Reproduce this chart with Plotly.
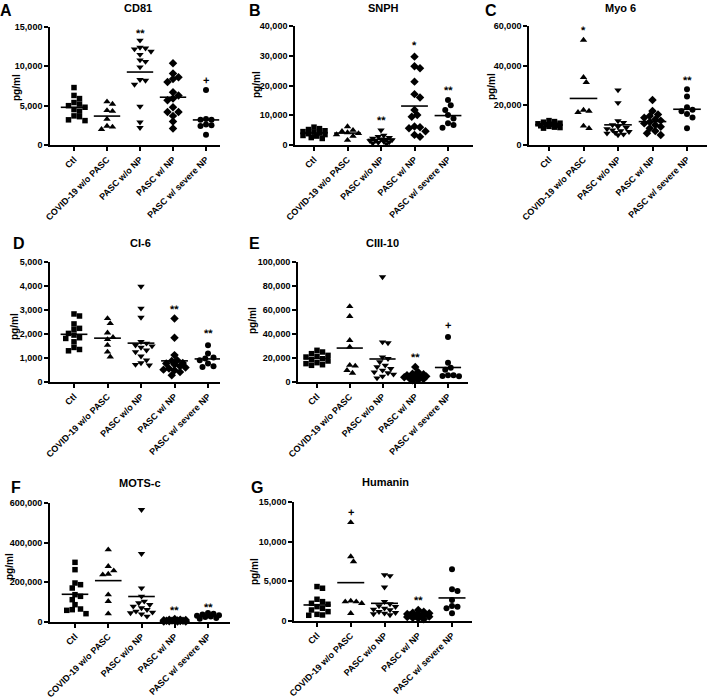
import numpy as np
import plotly.graph_objects as go

W, H = 709, 698

categories = ["Ctl", "COVID-19 w/o PASC", "PASC w/o NP", "PASC w/ NP", "PASC w/ severe NP"]
symbols = ["square", "triangle-up", "triangle-down", "diamond", "circle"]

# ---- data (pg/ml) ----
cd81 = [
    [7300, 6300, 5900, 5400, 5200, 5000, 4800, 4500, 4300, 3700, 3600, 3200, 3100],
    [5500, 5200, 4400, 4300, 3300, 2400, 2000, 2300],
    [13300, 12400, 12300, 12200, 11900, 11500, 10800, 10600, 9900, 8300, 8200, 7700, 4900, 2900, 2200],
    [10400, 9100, 8600, 8400, 8000, 6700, 6300, 5900, 5700, 4800, 4200, 4200, 3700, 3000, 2100],
    [7000, 3300, 3200, 3200, 2600, 2500, 2400, 1300],
]
snph = [
    [6000, 5500, 5200, 4800, 4500, 4300, 4000, 3800, 3500, 3200, 3000, 2500, 2200],
    [6200, 5000, 4600, 4200, 3900, 3500, 3000, 1600],
    [5000, 3200, 2800, 2500, 2200, 2000, 1900, 1700, 1500, 1400, 1200, 1000, 800, 600, 400],
    [29700, 26500, 25800, 21300, 17100, 16000, 11800, 10100, 9500, 6200, 6000, 5600, 4600, 3400, 2800],
    [15100, 13400, 11800, 10100, 8900, 7300, 6700, 5800],
]
myo6 = [
    [12300, 11800, 11500, 11000, 10700, 10500, 10200, 10000, 9700, 9400, 9000, 8800, 8500],
    [52900, 34100, 31600, 17600, 17100, 16500, 9600, 8400],
    [27700, 21300, 12100, 11300, 10100, 9240, 8740, 8070, 7560, 7060, 6720, 6220, 5880, 5380, 5040],
    [22700, 17100, 15400, 14600, 13800, 12900, 12300, 11600, 10900, 10100, 9200, 8400, 7100, 5900, 5000],
    [28100, 24400, 19000, 17800, 17000, 15600, 13900, 8400],
]
ci6 = [
    [2835, 2750, 2420, 2235, 2190, 2025, 1955, 1845, 1815, 1675, 1440, 1355, 1300],
    [2650, 2440, 2050, 1860, 1775, 1535, 1255, 1050],
    [3980, 3070, 2690, 1680, 1610, 1535, 1495, 1440, 1325, 1255, 1075, 910, 795, 725, 700],
    [2650, 1845, 1120, 910, 880, 795, 770, 725, 655, 600, 560, 515, 490, 420, 280],
    [1535, 1190, 1020, 980, 910, 770, 655, 630],
]
ciii10 = [
    [26400, 25000, 23600, 22200, 21400, 20800, 19400, 18600, 17500, 16100, 15300, 14400, 13900],
    [63000, 54700, 34700, 29200, 14000, 13400, 9700, 7500],
    [87500, 33300, 32500, 20800, 19400, 16700, 13900, 12500, 11100, 9700, 8300, 7500, 6400, 4700, 3300],
    [12500, 8300, 6900, 6400, 5600, 5000, 4700, 4200, 3900, 3600, 3300, 2800, 2500, 1900, 1400],
    [37500, 16100, 11900, 10300, 5600, 5600, 5000, 4700],
]
motsc = [
    [300800, 263900, 196600, 188200, 171400, 137800, 129400, 112600, 87400, 65500, 62200, 58800, 42000],
    [364700, 280700, 258800, 242000, 238700, 137800, 104200, 42000],
    [566400, 344500, 171400, 129400, 104200, 95800, 87400, 79000, 70600, 62200, 53800, 48700, 45400, 40300, 28600],
    [15000, 12000, 11000, 10000, 9000, 8000, 7000, 6500, 6000, 5000, 4500, 4000, 3000, 2500, 2000],
    [45000, 42000, 38000, 34000, 31000, 28000, 25000, 20000, 16000],
]
humanin = [
    [4340, 4130, 2740, 2440, 2230, 2110, 1810, 1600, 1390, 1180, 840, 760, 720],
    [12430, 8130, 7500, 2530, 2440, 2230, 2440, 970],
    [5820, 5690, 4260, 2440, 2150, 1900, 1810, 1600, 1475, 1390, 1180, 1050, 970, 890, 760],
    [1390, 1180, 1050, 970, 890, 840, 760, 720, 670, 630, 550, 505, 420, 340, 210],
    [6530, 4000, 3790, 2650, 1900, 1810, 1600, 970],
]

titles = ["CD81", "SNPH", "Myo 6", "CI-6", "CIII-10", "MOTS-c", "Humanin"]
letters = ["A", "B", "C", "D", "E", "F", "G"]
ymaxes = [15000, 40000, 60000, 5000, 100000, 600000, 15000]
ydticks = [5000, 10000, 20000, 1000, 20000, 200000, 5000]

# significance marks: (category index, text, y value)
sig_cd81 = [(2, "**", 14300), (4, "+", 8300)]
sig_snph = [(2, "**", 8300), (3, "*", 33600), (4, "**", 18400)]
sig_myo6 = [(1, "*", 58000), (4, "**", 33000)]
sig_ci6 = [(3, "**", 3050), (4, "**", 2050)]
sig_ciii10 = [(3, "**", 20500), (4, "+", 47500)]
sig_motsc = [(3, "**", 60000), (4, "**", 75000)]
sig_humanin = [(1, "+", 13800), (3, "**", 2600)]

panels = [cd81, snph, myo6, ci6, ciii10, motsc, humanin]
sigs = [sig_cd81, sig_snph, sig_myo6, sig_ci6, sig_ciii10, sig_motsc, sig_humanin]

# ---- layout geometry (pixels) ----
# plot box: x0, x1, ytop, ybottom ; first category centre and spacing
boxes = [
    (50, 220, 27, 145, 74, 33.0),
    (295, 473, 26, 145, 314, 33.5),
    (529, 707, 26, 145, 549, 34.5),
    (50, 220, 262, 382, 74, 33.5),
    (298, 468, 262, 382, 317, 32.75),
    (50, 230, 503, 622, 75, 33.25),
    (294, 472, 502, 621, 317, 33.75),
]
title_pos = [(138, 8), (383, 8), (620, 8), (140, 243), (382, 243), (140, 483), (385, 482)]
letter_pos = [(6, 11), (255, 11), (491, 11), (19, 243), (254, 243), (16, 487), (257, 487)]
ylab_pos = [(17, 88), (257, 85), (492, 87), (15, 326), (252, 321), (9, 567), (254, 572)]


def swarm(vals, px_per_val, spacing_px, msize=6.0, maxoff=12.0):
    vals = np.asarray(vals, dtype=float)
    order = np.argsort(-vals, kind="stable")
    placed = []
    offs = np.zeros(len(vals))
    step = msize / 2.0
    cands = [0.0]
    k = 1
    while k * step <= maxoff + 1e-9:
        cands += [k * step, -k * step]
        k += 1
    for i in order:
        y = vals[i] * px_per_val
        best, bestd = 0.0, -1.0
        for c in cands:
            d = min([np.hypot(c - px, y - py) for px, py in placed], default=1e9)
            if d >= msize:
                best = c
                break
            if d > bestd:
                bestd, best = d, c
        placed.append((best, y))
        offs[i] = best / spacing_px
    return offs


fig = go.Figure()
layout = dict(
    width=W, height=H, margin=dict(l=0, r=0, t=0, b=0, pad=0, autoexpand=False),
    paper_bgcolor="white", plot_bgcolor="white", showlegend=False,
    font=dict(family="Liberation Sans, Arial, sans-serif", color="black"),
)
annotations = []
bold = dict(family="Liberation Sans, Arial, sans-serif", color="black", weight="bold")
msizes = {"square": 5.5, "triangle-up": 6.5, "triangle-down": 6.5, "diamond": 6.5, "circle": 6}

for p, data in enumerate(panels):
    x0, x1, yt, yb, c0, sp = boxes[p]
    xr = [(x0 - c0) / sp, (x1 - c0) / sp]
    ax = "" if p == 0 else str(p + 1)
    xa, ya = "x" + ax, "y" + ax
    px_per_val = (yb - yt) / ymaxes[p]
    for ci, vals in enumerate(data):
        offs = swarm(vals, px_per_val, sp, msize=5.5, maxoff=11.0)
        fig.add_trace(go.Scatter(
            x=ci + offs, y=vals, mode="markers", xaxis=xa, yaxis=ya,
            marker=dict(symbol=symbols[ci], size=msizes[symbols[ci]], color="black",
                        line=dict(width=0)),
            cliponaxis=False, hoverinfo="y",
        ))
        m = float(np.mean(vals))
        fig.add_trace(go.Scatter(
            x=[ci - 0.4, ci + 0.4], y=[m, m], mode="lines", xaxis=xa, yaxis=ya,
            line=dict(color="black", width=1.6), cliponaxis=False, hoverinfo="skip",
        ))
    for ci, txt, yv in sigs[p]:
        annotations.append(dict(x=ci, y=yv, xref=xa, yref=ya, text=txt, showarrow=False,
                                textangle=0.2, font=dict(size=11, **bold),
                                xanchor="center", yanchor="middle"))
    layout["xaxis" + ax] = dict(
        domain=[x0 / W, x1 / W], range=xr, anchor=ya, automargin=False,
        tickmode="array", tickvals=list(range(5)), ticktext=categories, tickangle=-45,
        showline=True, linecolor="black", linewidth=1.6, ticks="outside", ticklen=4,
        tickwidth=1.5, tickcolor="black", showgrid=False, zeroline=False,
        tickfont=dict(size=9, **bold), fixedrange=True,
    )
    layout["yaxis" + ax] = dict(
        domain=[1 - yb / H, 1 - yt / H], range=[0, ymaxes[p]], anchor=xa, automargin=False,
        tickmode="linear", tick0=0, dtick=ydticks[p], tickformat=",d",
        showline=True, linecolor="black", linewidth=1.6, ticks="outside", ticklen=4,
        tickwidth=1.5, tickcolor="black", showgrid=False, zeroline=False,
        tickfont=dict(size=9, **bold), fixedrange=True,
    )
    tx, ty = title_pos[p]
    annotations.append(dict(x=tx / W, y=1 - ty / H, xref="paper", yref="paper",
                            text=titles[p], showarrow=False, font=dict(size=11, **bold),
                            xanchor="center", yanchor="middle"))
    lx, ly = letter_pos[p]
    annotations.append(dict(x=lx / W, y=1 - ly / H, xref="paper", yref="paper",
                            text=letters[p], showarrow=False, font=dict(size=16, **bold),
                            xanchor="center", yanchor="middle"))
    qx, qy = ylab_pos[p]
    annotations.append(dict(x=qx / W, y=1 - qy / H, xref="paper", yref="paper",
                            text="pg/ml", showarrow=False, textangle=-90,
                            font=dict(size=10, **bold), xanchor="center", yanchor="middle"))

layout["annotations"] = annotations
fig.update_layout(**layout)
fig.write_html(
    "out.html",
    config={"displayModeBar": False},
    post_script="document.body.style.margin='0';document.body.style.overflow='hidden';",
)
